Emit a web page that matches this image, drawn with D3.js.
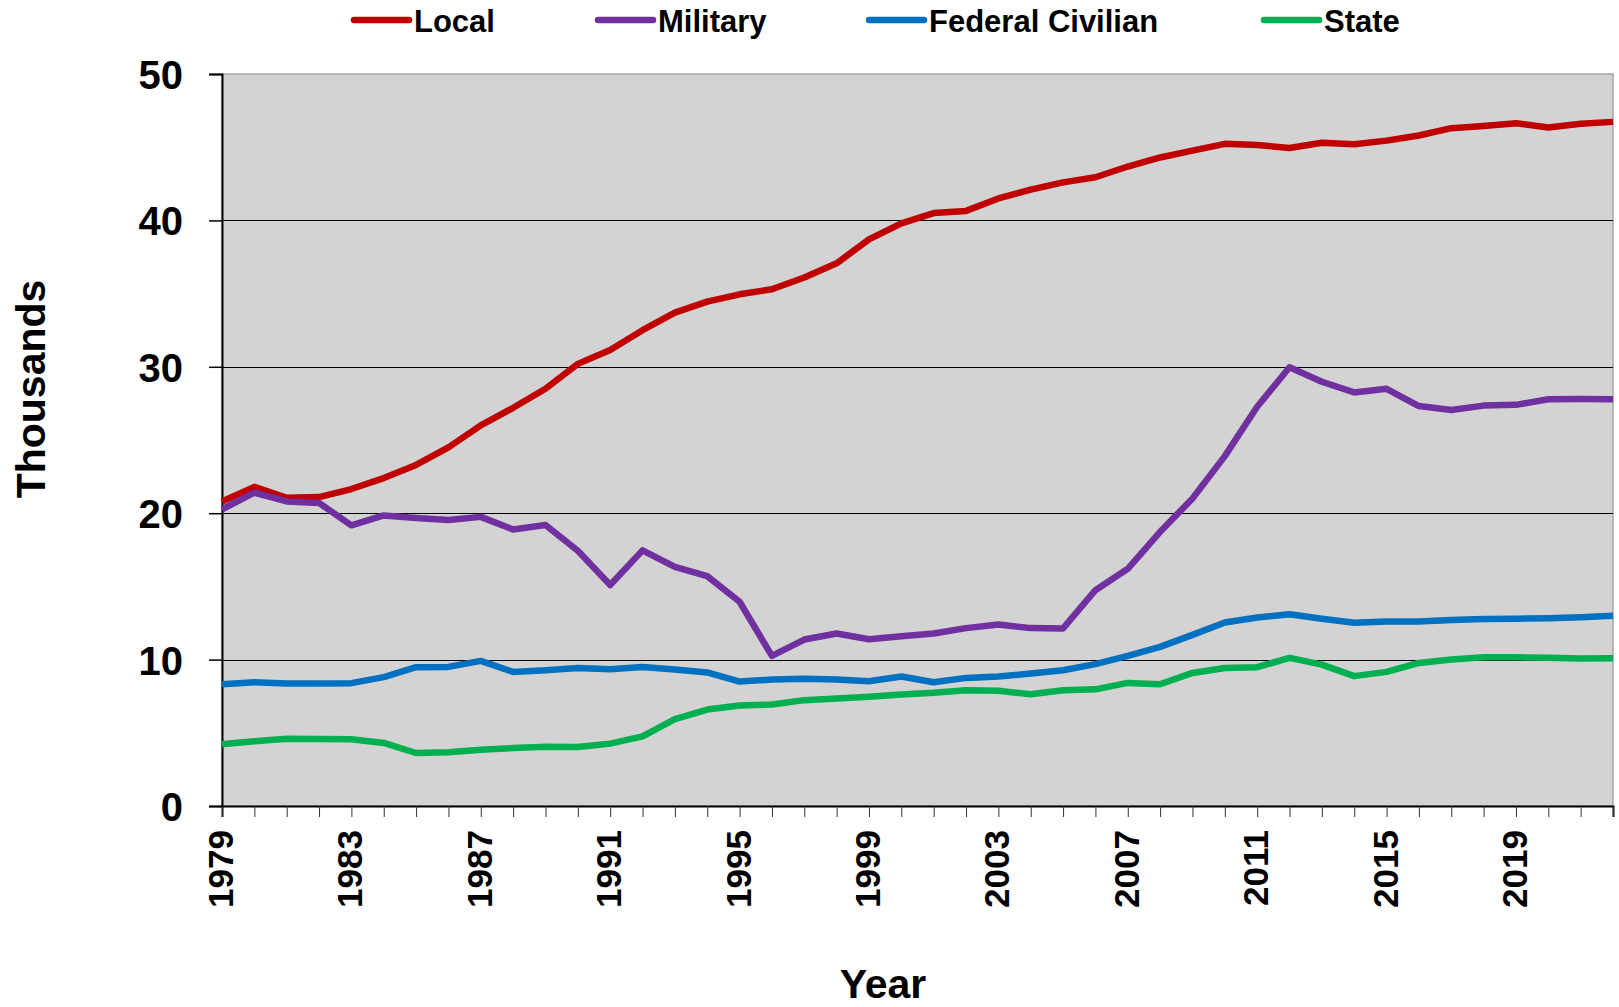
<!DOCTYPE html>
<html>
<head>
<meta charset="utf-8">
<script src="https://cdn.jsdelivr.net/npm/d3@7"></script>
<style>
  body { margin: 0; background: #fff; }
  text { font-family: "Liberation Sans", Arial, sans-serif; font-weight: bold; fill: #000; }
</style>
</head>
<body>
<div id="chart"></div>
<script>
// data (thousands)
const years = d3.range(1979, 2023);
const local = [20.8, 21.8, 21.05, 21.1, 21.65, 22.4, 23.3, 24.5, 26.0, 27.2, 28.5, 30.2, 31.15, 32.5, 33.7, 34.45, 34.95, 35.3, 36.1, 37.07, 38.7, 39.8,
  40.5, 40.65, 41.5, 42.1, 42.6, 42.95, 43.68, 44.3, 44.77, 45.23, 45.15, 44.95, 45.3, 45.2, 45.45, 45.8, 46.3, 46.45, 46.64, 46.35, 46.6, 46.73];
const military = [20.26, 21.4, 20.8, 20.7, 19.17, 19.85, 19.67, 19.53, 19.75, 18.89, 19.19, 17.43, 15.09, 17.46, 16.34, 15.7, 13.95, 10.25, 11.37, 11.78, 11.39, 11.6,
  11.78, 12.15, 12.4, 12.15, 12.13, 14.74, 16.2, 18.73, 21.0, 23.9, 27.27, 29.97, 28.98, 28.25, 28.5, 27.32, 27.05, 27.35, 27.4, 27.78, 27.8, 27.78];
const federal = [8.32, 8.45, 8.36, 8.36, 8.39, 8.8, 9.48, 9.5, 9.91, 9.16, 9.27, 9.43, 9.34, 9.5, 9.32, 9.12, 8.5, 8.64, 8.69, 8.64, 8.52, 8.85,
  8.45, 8.75, 8.84, 9.05, 9.27, 9.69, 10.25, 10.87, 11.69, 12.53, 12.88, 13.1, 12.79, 12.52, 12.6, 12.6, 12.7, 12.77, 12.79, 12.83, 12.9, 12.99];
const state = [4.22, 4.42, 4.6, 4.58, 4.56, 4.31, 3.62, 3.67, 3.85, 3.96, 4.05, 4.03, 4.26, 4.76, 5.93, 6.59, 6.86, 6.93, 7.23, 7.34, 7.47, 7.62,
  7.73, 7.9, 7.87, 7.63, 7.9, 7.97, 8.41, 8.32, 9.09, 9.43, 9.48, 10.12, 9.66, 8.87, 9.16, 9.77, 10.0, 10.16, 10.16, 10.12, 10.07, 10.09];
const seriesNames = ['Local', 'Military', 'Federal Civilian', 'State'];
const seriesColors = ['#C00000', '#7030A0', '#0070C0', '#00B050'];
const yTicks = [0, 10, 20, 30, 40, 50];
const xLabelYears = d3.range(1979, 2023, 4);

const W = 1619, H = 1007;
const margin = {left: 222, right: 6, top: 74, bottom: 201};
const pw = W - margin.left - margin.right;
const ph = H - margin.top - margin.bottom;

const svg = d3.select('#chart').append('svg')
  .attr('width', W)
  .attr('height', H);

const x = d3.scaleLinear().domain([1979, 2022]).range([0, pw]);
const y = d3.scaleLinear().domain([0, 50]).range([ph, 0]);

const g = svg.append('g').attr('transform', `translate(${margin.left},${margin.top})`);

// plot background + grey frame (top/right)
g.append('rect')
  .attr('width', pw).attr('height', ph)
  .attr('fill', '#d3d3d3')
  .attr('stroke', '#a6a6a6')
  .attr('stroke-width', 1.5);

// gridlines
g.append('g')
  .selectAll('line')
  .data(yTicks.filter(d => d > 0 && d < 50))
  .join('line')
  .attr('x1', 0).attr('x2', pw)
  .attr('y1', d => Math.round(y(d)) + 0.5).attr('y2', d => Math.round(y(d)) + 0.5)
  .attr('stroke', '#000').attr('stroke-width', 1);

// y axis
const yAxis = g.append('g')
  .call(d3.axisLeft(y).tickValues(yTicks).tickSize(13).tickPadding(26));
yAxis.select('.domain').attr('stroke', '#000').attr('stroke-width', 2);
yAxis.selectAll('.tick line').attr('stroke', '#000').attr('stroke-width', 1.5);
yAxis.selectAll('.tick text')
  .attr('font-size', 40)
  .attr('font-family', '"Liberation Sans", Arial, sans-serif')
  .attr('font-weight', 'bold')
  .attr('dy', '0.36em');

// x axis: a tick per year, label every 4th
const xAxis = g.append('g')
  .attr('transform', `translate(0,${ph})`)
  .call(d3.axisBottom(x).tickValues(years).tickSize(11).tickFormat(''));
xAxis.select('.domain').attr('stroke', '#000').attr('stroke-width', 2);
xAxis.selectAll('.tick line').attr('stroke', '#333').attr('stroke-width', 1);

g.append('g')
  .selectAll('text')
  .data(xLabelYears)
  .join('text')
  .attr('transform', d => `translate(${x(d) + 11},${ph + 24}) rotate(-90)`)
  .attr('text-anchor', 'end')
  .attr('font-size', 35)
  .text(d => d);

// lines
const lineData = [local, military, federal, state];
const line = d3.line()
  .x((d, i) => x(years[i]))
  .y(d => y(d));

g.append('g')
  .selectAll('path')
  .data(lineData)
  .join('path')
  .attr('d', line)
  .attr('fill', 'none')
  .attr('stroke', (d, i) => seriesColors[i])
  .attr('stroke-width', 6.5)
  .attr('stroke-linejoin', 'round');

// axis titles
svg.append('text')
  .attr('transform', 'translate(45,389) rotate(-90)')
  .attr('text-anchor', 'middle')
  .attr('font-size', 41)
  .text('Thousands');

svg.append('text')
  .attr('x', 883).attr('y', 998)
  .attr('text-anchor', 'middle')
  .attr('font-size', 41)
  .text('Year');

// legend
const legendX = [354, 598, 869, 1264];
const legend = svg.append('g')
  .selectAll('g')
  .data(seriesNames)
  .join('g')
  .attr('transform', (d, i) => `translate(${legendX[i]},20)`);
legend.append('line')
  .attr('x1', 0).attr('x2', 55)
  .attr('stroke', (d, i) => seriesColors[i])
  .attr('stroke-width', 6.5)
  .attr('stroke-linecap', 'round');
legend.append('text')
  .attr('x', 60).attr('y', 12)
  .attr('font-size', 31)
  .text(d => d);
</script>
</body>
</html>
